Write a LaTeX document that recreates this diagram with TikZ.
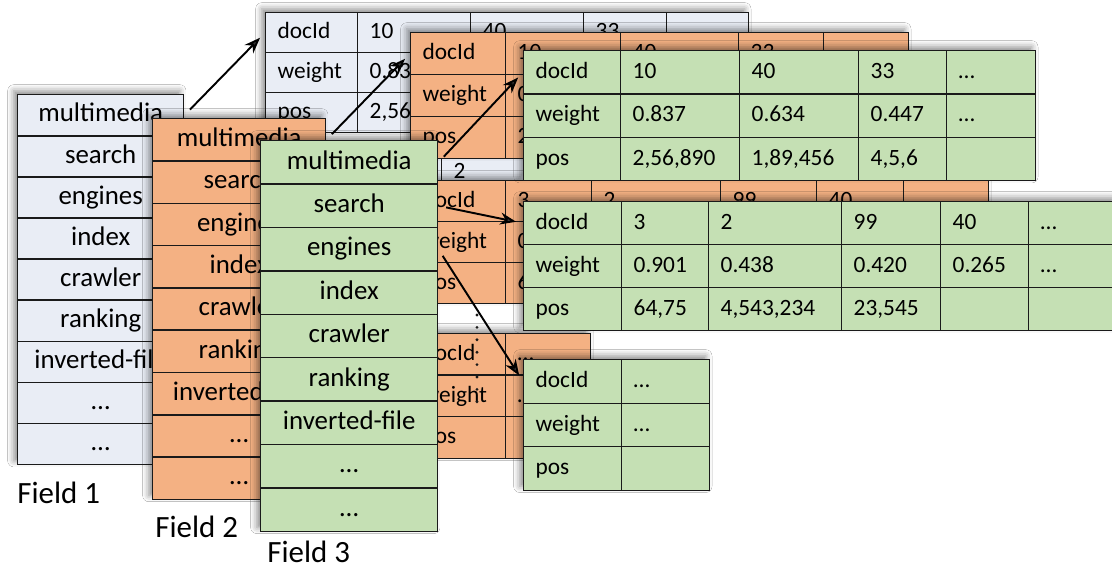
\documentclass[tikz,border=0pt]{standalone}
\usepackage{fontspec}
\setmainfont{Carlito}
\usetikzlibrary{arrows.meta,positioning,calc,shadows.blur}
\definecolor{fieldA}{HTML}{E9EDF5}
\definecolor{fieldB}{HTML}{F4B183}
\definecolor{fieldC}{HTML}{C5E0B4}
\definecolor{rule}{HTML}{1A1A1A}
\tikzset{
  cell/.style={rectangle,draw=rule,line width=0.8pt,anchor=north west,
    inner ysep=0pt,inner xsep=6.8pt,align=left,text height=1.95ex,text depth=.45ex,
    font=\fontsize{13.3}{15}\selectfont},
  term/.style={rectangle,draw=rule,line width=0.8pt,anchor=north west,
    inner sep=0pt,text height=2.05ex,text depth=.45ex,
    font=\fontsize{15.3}{17}\selectfont},
  plate/.style={fill=white,blur shadow={shadow xshift=-1.8pt,shadow yshift=1.8pt,
    shadow blur radius=3.5pt,shadow opacity=45}},
  fieldlbl/.style={anchor=base west,inner sep=0pt,font=\fontsize{17.6}{20}\selectfont},
  link/.style={-{Stealth[length=3.2mm,width=2.4mm]},line width=1.1pt,
    shorten <=4.5pt,shorten >=4pt},
}
% term column of one field: name, fill, left x, top y, width, row height
\newcommand{\termcol}[6]{%
  \path[plate] (#3,#4) rectangle ++(#5,{9*#6});
  \pgfmathsetmacro\colw{#5*0.02}
  \pgfmathsetmacro\rowh{#6*0.02}
  \foreach \w [count=\i] in {multimedia,search,engines,index,crawler,ranking,inverted-file,\ldots,\ldots}
    \node[term,fill=#2,minimum width=\colw cm,minimum height=\rowh cm] (#1-\i) at (#3,{#4+(\i-1)*#6}) {\w};
}
% posting list: name, fill, left x, right x, top y, row height, columns x1/x2/docId/weight/pos
\newcommand{\postlist}[7]{%
  \path[plate] (#3,#5) rectangle (#4,{#5+3*#6});
  \pgfmathsetmacro\rowh{#6*0.02}
  \foreach \xa/\xb/\ta/\tb/\tc [count=\j] in {#7} {
    \pgfmathsetmacro\tw{(\xb-\xa)*0.02*28.45274-13.66}
    \node[cell,fill=#2,text width=\tw pt,minimum height=\rowh cm] (#1-\j-1) at (\xa,#5) {\ta};
    \node[cell,fill=#2,text width=\tw pt,minimum height=\rowh cm] (#1-\j-2) at (\xa,{#5+#6}) {\tb};
    \node[cell,fill=#2,text width=\tw pt,minimum height=\rowh cm] (#1-\j-3) at (\xa,{#5+2*#6}) {\tc};
  }
}

\begin{document}
\begin{tikzpicture}[x=0.02cm,y=-0.02cm]
  \path[use as bounding box,fill=white] (0,0) rectangle (1112,567);

  % field 1
  \postlist{b1}{fieldA}{265}{748}{12}{40}{265/357/docId/weight/pos, 357/470/10/0.837/{2,56,890},
    470/583/40/0.634/{1,89,456}, 583/666/33/0.447/{4,5,6}, 666/748/\ldots/\ldots/{}}
  \postlist{b2}{fieldA}{265}{826}{152}{40}{265/357/docId/weight/pos, 357/441/3/0.901/{64,75},
    441/566/2/0.438/{4,543,234}, 566/659/99/0.420/{23,545}, 659/743/40/0.265/{}, 743/826/\ldots/\ldots/{}}
  \termcol{f1}{fieldA}{17}{94}{166}{41.1}
  \node[fieldlbl] (lab1) at (17,503) {Field 1};
  \draw[link] (f1-1.east) -- (b1-1-1.west);

  % field 2
  \postlist{o1}{fieldB}{410}{908}{32}{42}{410/505/docId/weight/pos, 505/620/10/0.837/{2,56,890},
    620/738/40/0.634/{1,89,456}, 738/823/33/0.447/{4,5,6}, 823/908/\ldots/\ldots/{}}
  \postlist{o2}{fieldB}{410}{988}{180}{41}{410/505/docId/weight/pos, 505/591/3/0.901/{64,75},
    591/720/2/0.438/{4,543,234}, 720/816/99/0.420/{23,545}, 816/903/40/0.265/{}, 903/988/\ldots/\ldots/{}}
  \postlist{o3}{fieldB}{410}{590}{333}{41.5}{410/505/docId/weight/pos, 505/590/\ldots/\ldots/{}}
  \foreach \k in {0,...,7}
    \fill[rule] (477,{315+12.4*\k}) circle (0.9pt);
  \termcol{f2}{fieldB}{152}{118}{173}{42.3}
  \node[fieldlbl] (lab2) at (155,537) {Field 2};
  \draw[link] (f2-1.east) -- (o1-1-1.west);

  % field 3
  \postlist{g1}{fieldC}{523}{1035}{50}{43.3}{523/620/docId/weight/pos, 620/739/10/0.837/{2,56,890},
    739/858/40/0.634/{1,89,456}, 858/946/33/0.447/{4,5,6}, 946/1035/\ldots/\ldots/{}}
  \postlist{g2}{fieldC}{523}{1116}{201}{43}{523/621/docId/weight/pos, 621/708/3/0.901/{64,75},
    708/841/2/0.438/{4,543,234}, 841/940/99/0.420/{23,545}, 940/1028/40/0.265/{}, 1028/1116/\ldots/\ldots/{}}
  \postlist{g3}{fieldC}{523}{709}{359}{43.5}{523/621/docId/weight/pos, 621/709/\ldots/\ldots/{}}
  \termcol{f3}{fieldC}{260}{140}{177}{43.4}
  \node[fieldlbl] (lab3) at (267,562) {Field 3};
  \draw[link] (f3-1.east) -- (g1-1-1.west);
  \draw[link] (f3-2.east) -- (g2-1-1.west);
  \draw[link] (f3-3.east) -- (g3-1-1.west);
\end{tikzpicture}
\end{document}
